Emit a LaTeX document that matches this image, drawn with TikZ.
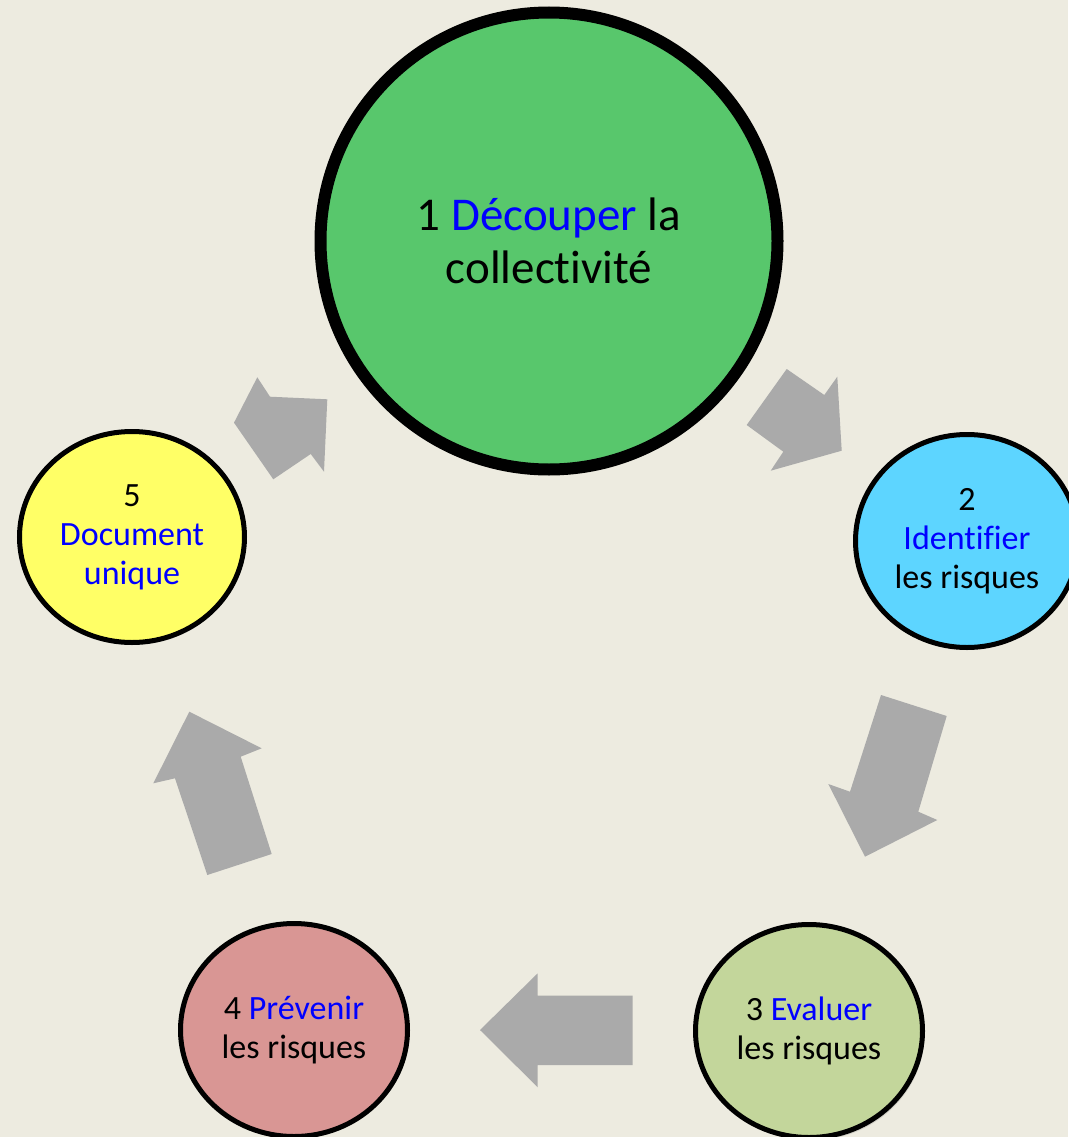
\documentclass[tikz,border=0pt]{standalone}
\usepackage{fontspec}
\setmainfont{Carlito}[Ligatures=NoCommon]
\usetikzlibrary{shapes.geometric,shadows}
\definecolor{bg}{RGB}{237,235,224}
\definecolor{greenbig}{RGB}{88,199,108}
\definecolor{bluec}{RGB}{93,213,255}
\definecolor{yellowc}{RGB}{255,255,102}
\definecolor{pinkc}{RGB}{217,150,148}
\definecolor{greenlt}{RGB}{195,214,155}
\definecolor{arrowgray}{RGB}{170,170,170}
\definecolor{txtblue}{RGB}{0,0,255}
\newcommand{\bl}[1]{\textcolor{txtblue}{#1}}
\begin{document}
\begin{tikzpicture}[x=1pt,y=-1pt,
  stage/.style={ellipse, draw=black, line width=5pt, align=center, inner sep=0pt,
    font=\fontsize{34}{39}\selectfont, text=black},
  bigstage/.style={circle, draw=black, line width=12pt, align=center, inner sep=0pt,
    font=\fontsize{47}{53}\selectfont, text=black},
  blockarrow/.style={fill=arrowgray, draw=none}]
\useasboundingbox (0,0) rectangle (1068,1137);
\fill[bg] (0,0) rectangle (1068,1137);

% stages
\node[bigstage, fill=greenbig, minimum size=457pt] (s1) at (549,241)
  {1 \bl{Découper} la\\collectivité};
\node[stage, fill=bluec, minimum width=223pt, minimum height=213pt] (s2) at (967,541)
  {2\\\bl{Identifier}\\les risques};
\node[stage, fill=greenlt, minimum width=227pt, minimum height=213pt,
  drop shadow={opacity=0.25, shadow xshift=2pt, shadow yshift=-3pt}] (s3) at (809,1031)
  {3 \bl{Evaluer}\\les risques};
\node[stage, fill=pinkc, minimum width=227pt, minimum height=213pt] (s4) at (294,1030)
  {4 \bl{Prévenir}\\les risques};
\node[stage, fill=yellowc, minimum width=225pt, minimum height=211pt] (s5) at (132,537)
  {5\\\bl{Document}\\\bl{unique}};

% block arrows
\fill[blockarrow] (786.7,369) -- (824.3,395) -- (837.3,376.7) -- (841.7,450.7)
  -- (770.7,470.7) -- (783.3,451.7) -- (746.7,425) -- cycle;
\fill[blockarrow] (881,695) -- (946.7,716) -- (918.3,811.7) -- (937.3,820)
  -- (865,856.7) -- (828.3,784) -- (850,791.7) -- cycle;
\fill[blockarrow] (537.7,973.3) -- (537.7,995.7) -- (632.7,995.7) -- (632.7,1065)
  -- (537.7,1065) -- (537.7,1087.3) -- (480,1030) -- cycle;
\fill[blockarrow] (189.3,711.7) -- (261.7,748.3) -- (240.7,756.7) -- (271.7,854)
  -- (207.3,875) -- (175,778.3) -- (153.3,783.3) -- cycle;
\fill[blockarrow] (257.3,377.3) -- (270,396.7) -- (327.3,399.3) -- (324,471.7)
  -- (310.7,454) -- (273.3,479.3) -- (234,422.7) -- cycle;
\end{tikzpicture}
\end{document}
